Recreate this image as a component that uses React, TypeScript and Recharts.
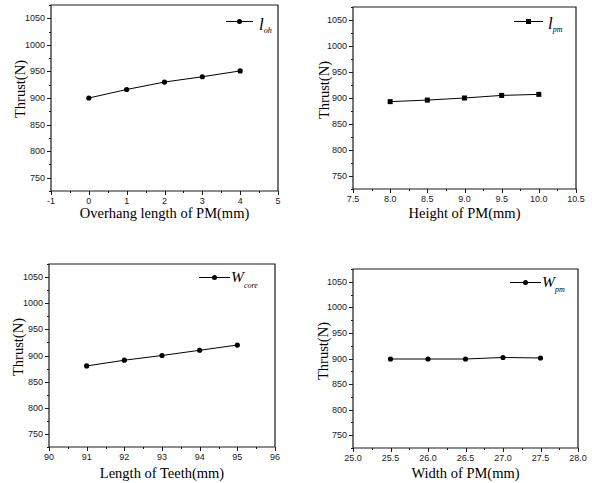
import React from "react";
import { LineChart, Line, XAxis, YAxis, Legend, ReferenceArea } from "recharts";

// values
const ohLength = [0, 1, 2, 3, 4];
const ohThrust = [900, 916, 930, 940, 951];

const pmHeight = [8.0, 8.5, 9.0, 9.5, 10.0];
const pmHeightThrust = [893, 896, 900, 905, 907];

const teethLength = [91, 92, 93, 94, 95];
const teethThrust = [880, 891, 900, 910, 920];

const pmWidth = [25.5, 26.0, 26.5, 27.0, 27.5];
const pmWidthThrust = [899, 899, 899, 902, 901];

// axis ticks (minor + major)
const thrustTicks = [725, 750, 775, 800, 825, 850, 875, 900, 925, 950, 975, 1000, 1025, 1050, 1075];
const ohTicks = [-1, -0.5, 0, 0.5, 1, 1.5, 2, 2.5, 3, 3.5, 4, 4.5, 5];
const pmHeightTicks = [7.5, 7.75, 8.0, 8.25, 8.5, 8.75, 9.0, 9.25, 9.5, 9.75, 10.0, 10.25, 10.5];
const teethTicks = [90, 90.5, 91, 91.5, 92, 92.5, 93, 93.5, 94, 94.5, 95, 95.5, 96];
const pmWidthTicks = [25.0, 25.25, 25.5, 25.75, 26.0, 26.25, 26.5, 26.75, 27.0, 27.25, 27.5, 27.75, 28.0];

const INK = "#1a1a1a";
const SANS = "'Liberation Sans', Arial, sans-serif";
const SERIF = "'Liberation Serif', 'Times New Roman', serif";

const isMultiple = (v: number, step: number) =>
  Math.abs(v / step - Math.round(v / step)) < 1e-6;

function XTick(props: any) {
  const { x, y, payload, major, decimals } = props;
  const v = payload.value as number;
  const big = isMultiple(v, major);
  const px = Math.round(x) + 0.5;
  return (
    <g>
      <path d={`M${px},${y}V${y + (big ? 4 : 2)}`} stroke={INK} strokeWidth={1} fill="none" />
      {big && (
        <text x={x} y={y + 13} textAnchor="middle" fontSize={9} fontFamily={SANS} fill={INK}>
          {v.toFixed(decimals)}
        </text>
      )}
    </g>
  );
}

function YTick(props: any) {
  const { x, y, payload } = props;
  const v = payload.value as number;
  const big = isMultiple(v, 50);
  const py = Math.round(y) + 0.5;
  return (
    <g>
      <path d={`M${x},${py}H${x - (big ? 4 : 2)}`} stroke={INK} strokeWidth={1} fill="none" />
      {big && (
        <text x={x - 6} y={y + 3} textAnchor="end" fontSize={9} fontFamily={SANS} fill={INK}>
          {v}
        </text>
      )}
    </g>
  );
}

function LegendKey({ lineLen, textX, main, sub, square, mainDy, subDy, mainSize }: any) {
  const mid = lineLen / 2;
  const ly = 10.5;
  return (
    <svg width={80} height={30} style={{ display: "block", overflow: "visible" }}>
      <line x1={0} x2={lineLen} y1={ly} y2={ly} stroke="#000" />
      {square ? (
        <rect x={mid - 2.5} y={ly - 2.5} width={5} height={5} fill="#000" />
      ) : (
        <circle cx={mid} cy={ly} r={2.5} fill="#000" />
      )}
      <text x={textX} y={ly + mainDy} fontFamily={SERIF} fontStyle="italic" fill="#000">
        <tspan fontSize={mainSize}>{main}</tspan>
        <tspan fontSize={8} dy={subDy - mainDy}>{sub}</tspan>
      </text>
    </svg>
  );
}

type PanelProps = {
  xs: number[];
  ys: number[];
  xTicks: number[];
  major: number;
  decimals: number;
  xTitle: string;
  legendMain: string;
  legendSub: string;
  square?: boolean;
  // layout
  left: number;
  top: number;
  width: number;
  height: number;
  margin: { top: number; right: number; left: number; bottom: number };
  yAxisWidth: number;
  xAxisHeight: number;
  xTitleY: number;
  yTitleX: number;
  yTitleY: number;
  legendPos: {
    left: number;
    top: number;
    lineLen: number;
    textX: number;
    mainDy: number;
    subDy: number;
    mainSize: number;
  };
};

function Panel(p: PanelProps) {
  const data = p.xs.map((x, i) => ({ x, y: p.ys[i] }));
  const xDomain = [p.xTicks[0], p.xTicks[p.xTicks.length - 1]];
  const yDomain = [thrustTicks[0], thrustTicks[thrustTicks.length - 1]];
  const plotLeft = p.margin.left + p.yAxisWidth;
  const plotRight = p.width - p.margin.right;
  const xMid = (plotLeft + plotRight) / 2;

  return (
    <div style={{ position: "absolute", left: p.left, top: p.top }}>
      <LineChart width={p.width} height={p.height} data={data} margin={p.margin}>
        <XAxis
          dataKey="x"
          type="number"
          domain={xDomain}
          ticks={p.xTicks}
          interval={0}
          height={p.xAxisHeight}
          tickSize={0}
          tickMargin={0}
          tickLine={false}
          axisLine={false}
          tick={(t: any) => <XTick {...t} major={p.major} decimals={p.decimals} />}
          label={() => (
            <text x={xMid} y={p.xTitleY + 5} textAnchor="middle" fontSize={14.5} fontFamily={SERIF} fill="#000">
              {p.xTitle}
            </text>
          )}
        />
        <YAxis
          type="number"
          domain={yDomain}
          ticks={thrustTicks}
          interval={0}
          width={p.yAxisWidth}
          tickSize={0}
          tickMargin={0}
          tickLine={false}
          axisLine={false}
          tick={(t: any) => <YTick {...t} />}
          label={() => (
            <text
              x={p.yTitleX}
              y={p.yTitleY}
              textAnchor="middle"
              dominantBaseline="central"
              fontSize={14.5}
              fontFamily={SERIF}
              fill="#000"
              transform={`rotate(-90 ${p.yTitleX} ${p.yTitleY})`}
            >
              Thrust(N)
            </text>
          )}
        />
        {/* plot frame */}
        <ReferenceArea
          x1={xDomain[0]}
          x2={xDomain[1]}
          y1={yDomain[0]}
          y2={yDomain[1]}
          fill="none"
          fillOpacity={0}
          stroke={INK}
          strokeWidth={1.2}
          ifOverflow="extendDomain"
        />
        <Legend
          layout="horizontal"
          verticalAlign="middle"
          align="center"
          wrapperStyle={{ left: p.legendPos.left, top: p.legendPos.top, width: 80, height: 30 }}
          content={() => (
            <LegendKey
              lineLen={p.legendPos.lineLen}
              textX={p.legendPos.textX}
              mainDy={p.legendPos.mainDy}
              subDy={p.legendPos.subDy}
              mainSize={p.legendPos.mainSize}
              main={p.legendMain}
              sub={p.legendSub}
              square={p.square}
            />
          )}
        />
        <Line
          dataKey="y"
          type="linear"
          stroke="#000"
          strokeWidth={1}
          isAnimationActive={false}
          dot={(d: any) =>
            p.square ? (
              <rect key={d.index} x={d.cx - 2.5} y={d.cy - 2.5} width={5} height={5} fill="#000" />
            ) : (
              <circle key={d.index} cx={d.cx} cy={d.cy} r={2.6} fill="#000" />
            )
          }
          activeDot={false}
        />
      </LineChart>
    </div>
  );
}

export default function App() {
  return (
    <div
      style={{
        position: "absolute",
        left: 0,
        top: 0,
        width: 592,
        height: 483,
        background: "#fff",
        overflow: "hidden",
      }}
    >
      <Panel
        xs={ohLength}
        ys={ohThrust}
        xTicks={ohTicks}
        major={1}
        decimals={0}
        xTitle="Overhang length of PM(mm)"
        legendMain="l"
        legendSub="oh"
        left={0}
        top={0}
        width={296}
        height={240}
        margin={{ top: 5, right: 18, left: 0, bottom: 0 }}
        yAxisWidth={51}
        xAxisHeight={49}
        xTitleY={213}
        yTitleX={20}
        yTitleY={89}
        legendPos={{ left: 226, top: 10.5, lineLen: 27, textX: 33, mainDy: 8, subDy: 11, mainSize: 17 }}
      />
      <Panel
        xs={pmHeight}
        ys={pmHeightThrust}
        xTicks={pmHeightTicks}
        major={0.5}
        decimals={1}
        xTitle="Height of PM(mm)"
        legendMain="l"
        legendSub="pm"
        square
        left={296}
        top={0}
        width={296}
        height={240}
        margin={{ top: 7, right: 16, left: 0, bottom: 0 }}
        yAxisWidth={57}
        xAxisHeight={51}
        xTitleY={213}
        yTitleX={28}
        yTitleY={90}
        legendPos={{ left: 218, top: 10.5, lineLen: 29, textX: 34, mainDy: 7, subDy: 10.5, mainSize: 17 }}
      />
      <Panel
        xs={teethLength}
        ys={teethThrust}
        xTicks={teethTicks}
        major={1}
        decimals={0}
        xTitle="Length of Teeth(mm)"
        legendMain="W"
        legendSub="core"
        left={0}
        top={240}
        width={296}
        height={243}
        margin={{ top: 24, right: 21, left: 0, bottom: 0 }}
        yAxisWidth={49}
        xAxisHeight={36}
        xTitleY={233}
        yTitleX={18}
        yTitleY={107}
        legendPos={{ left: 199, top: 27.2, lineLen: 31, textX: 32, mainDy: 4.5, subDy: 10, mainSize: 15.5 }}
      />
      <Panel
        xs={pmWidth}
        ys={pmWidthThrust}
        xTicks={pmWidthTicks}
        major={0.5}
        decimals={1}
        xTitle="Width of PM(mm)"
        legendMain="W"
        legendSub="pm"
        left={296}
        top={240}
        width={296}
        height={243}
        margin={{ top: 29, right: 14, left: 0, bottom: 0 }}
        yAxisWidth={57}
        xAxisHeight={35}
        xTitleY={233}
        yTitleX={27}
        yTitleY={111}
        legendPos={{ left: 214, top: 32.2, lineLen: 31, textX: 32, mainDy: 4, subDy: 9.5, mainSize: 15.5 }}
      />
    </div>
  );
}
